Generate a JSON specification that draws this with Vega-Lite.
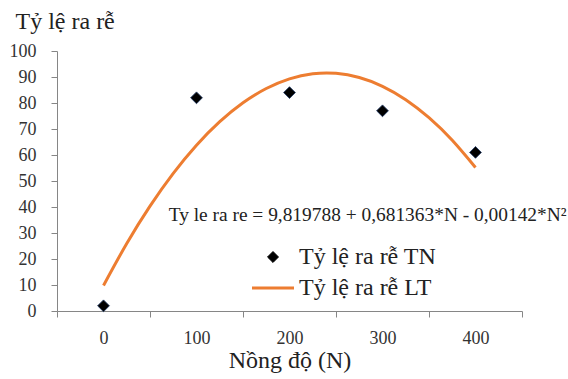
{
  "$schema": "https://vega.github.io/schema/vega-lite/v6.json",
  "width": 465,
  "height": 260,
  "autosize": {"type": "none"},
  "padding": {"left": 57, "top": 51, "right": 46, "bottom": 68},
  "background": "white",
  "config": {
    "view": {"stroke": null},
    "font": "Liberation Serif",
    "text": {"font": "Liberation Serif"},
    "legend": {"labelFont": "Liberation Serif"},
    "axis": {
      "grid": false,
      "domainColor": "#868686",
      "tickColor": "#868686",
      "labelColor": "#333333",
      "titleColor": "#222222",
      "labelFont": "Liberation Serif",
      "titleFont": "Liberation Serif",
      "titleFontWeight": "normal"
    }
  },
  "datasets": {
    "tn": [
      {"N": 0, "rate": 2, "s": "Tỷ lệ ra rễ TN"},
      {"N": 100, "rate": 82, "s": "Tỷ lệ ra rễ TN"},
      {"N": 200, "rate": 84, "s": "Tỷ lệ ra rễ TN"},
      {"N": 300, "rate": 77, "s": "Tỷ lệ ra rễ TN"},
      {"N": 400, "rate": 61, "s": "Tỷ lệ ra rễ TN"}
    ],
    "lt": [
      {"N": 0, "rate": 9.82, "s": "Tỷ lệ ra rễ LT"},
      {"N": 25, "rate": 25.97, "s": "Tỷ lệ ra rễ LT"},
      {"N": 50, "rate": 40.34, "s": "Tỷ lệ ra rễ LT"},
      {"N": 75, "rate": 52.93, "s": "Tỷ lệ ra rễ LT"},
      {"N": 100, "rate": 63.76, "s": "Tỷ lệ ra rễ LT"},
      {"N": 125, "rate": 72.80, "s": "Tỷ lệ ra rễ LT"},
      {"N": 150, "rate": 80.07, "s": "Tỷ lệ ra rễ LT"},
      {"N": 175, "rate": 85.57, "s": "Tỷ lệ ra rễ LT"},
      {"N": 200, "rate": 89.29, "s": "Tỷ lệ ra rễ LT"},
      {"N": 225, "rate": 91.24, "s": "Tỷ lệ ra rễ LT"},
      {"N": 250, "rate": 91.41, "s": "Tỷ lệ ra rễ LT"},
      {"N": 275, "rate": 89.80, "s": "Tỷ lệ ra rễ LT"},
      {"N": 300, "rate": 86.43, "s": "Tỷ lệ ra rễ LT"},
      {"N": 325, "rate": 81.27, "s": "Tỷ lệ ra rễ LT"},
      {"N": 350, "rate": 74.35, "s": "Tỷ lệ ra rễ LT"},
      {"N": 375, "rate": 65.64, "s": "Tỷ lệ ra rễ LT"},
      {"N": 400, "rate": 55.17, "s": "Tỷ lệ ra rễ LT"}
    ],
    "eq": [
      {"N": 284, "rate": 37, "label": "Ty le ra re = 9,819788 + 0,681363*N - 0,00142*N²"}
    ]
  },
  "encoding": {
    "x": {
      "field": "N",
      "type": "quantitative",
      "scale": {"domain": [-50, 450], "nice": false, "zero": false},
      "axis": {
        "title": "Nồng độ (N)",
        "titleFontSize": 24,
        "titlePadding": 1,
        "values": [-50, 0, 50, 100, 150, 200, 250, 300, 350, 400, 450],
        "labelExpr": "datum.value % 100 === 0 ? datum.label : ''",
        "tickOpacity": {"condition": {"test": "datum.value % 100 === 0", "value": 0}, "value": 1},
        "tickSize": 6,
        "labelPadding": 12,
        "labelFontSize": 18,
        "labelOverlap": false,
        "labelFlush": false
      }
    },
    "y": {
      "field": "rate",
      "type": "quantitative",
      "scale": {"domain": [0, 100], "nice": false},
      "axis": {
        "title": "Tỷ lệ ra rễ",
        "titleFontSize": 24,
        "titleAngle": 0,
        "titleAlign": "left",
        "titleBaseline": "alphabetic",
        "titleX": -42,
        "titleY": -23,
        "values": [0, 10, 20, 30, 40, 50, 60, 70, 80, 90, 100],
        "tickSize": 6,
        "labelPadding": 15,
        "labelFontSize": 18
      }
    }
  },
  "layer": [
    {
      "data": {"name": "lt"},
      "mark": {"type": "line", "interpolate": "natural", "strokeWidth": 3},
      "encoding": {
        "color": {
          "field": "s",
          "type": "nominal",
          "scale": {"domain": ["Tỷ lệ ra rễ TN", "Tỷ lệ ra rễ LT"], "range": ["#000000", "#ED7D31"]},
          "legend": {
            "title": null,
            "orient": "none",
            "legendX": 204,
            "legendY": 194,
            "padding": 0,
            "labelFont": "Liberation Serif",
            "labelFontSize": 24,
            "labelColor": "#222222",
            "labelLimit": 400,
            "symbolSize": 1764,
            "labelOffset": 14,
            "rowPadding": 7,
            "encode": {
              "symbols": {
                "update": {
                  "stroke": {"signal": "scale('color', datum.value)"},
                  "strokeWidth": {"signal": "datum.value === 'Tỷ lệ ra rễ LT' ? 3 : 1"},
                  "size": {"signal": "datum.value === 'Tỷ lệ ra rễ LT' ? 1764 : 120"}
                }
              }
            }
          }
        }
      }
    },
    {
      "data": {"name": "tn"},
      "mark": {"type": "point", "filled": true, "size": 140, "opacity": 1, "stroke": "#1F3864", "strokeWidth": 0.8},
      "encoding": {
        "color": {
          "field": "s",
          "type": "nominal",
          "scale": {"domain": ["Tỷ lệ ra rễ TN", "Tỷ lệ ra rễ LT"], "range": ["#000000", "#ED7D31"]},
          "legend": {
            "title": null,
            "orient": "none",
            "legendX": 204,
            "legendY": 194,
            "padding": 0,
            "labelFont": "Liberation Serif",
            "labelFontSize": 24,
            "labelColor": "#222222",
            "labelLimit": 400,
            "symbolSize": 1764,
            "labelOffset": 14,
            "rowPadding": 7,
            "encode": {
              "symbols": {
                "update": {
                  "stroke": {"signal": "scale('color', datum.value)"},
                  "strokeWidth": {"signal": "datum.value === 'Tỷ lệ ra rễ LT' ? 3 : 1"},
                  "size": {"signal": "datum.value === 'Tỷ lệ ra rễ LT' ? 1764 : 120"}
                }
              }
            }
          }
        },
        "shape": {
          "field": "s",
          "type": "nominal",
          "scale": {"domain": ["Tỷ lệ ra rễ TN", "Tỷ lệ ra rễ LT"], "range": ["diamond", "stroke"]},
          "legend": {
            "title": null,
            "orient": "none",
            "legendX": 204,
            "legendY": 194,
            "padding": 0,
            "labelFont": "Liberation Serif",
            "labelFontSize": 24,
            "labelColor": "#222222",
            "labelLimit": 400,
            "symbolSize": 1764,
            "labelOffset": 14,
            "rowPadding": 7
          }
        }
      }
    },
    {
      "data": {"name": "eq"},
      "mark": {"type": "text", "font": "Liberation Serif", "fontSize": 19.4, "color": "#222222"},
      "encoding": {"text": {"field": "label", "type": "nominal"}}
    }
  ]
}
